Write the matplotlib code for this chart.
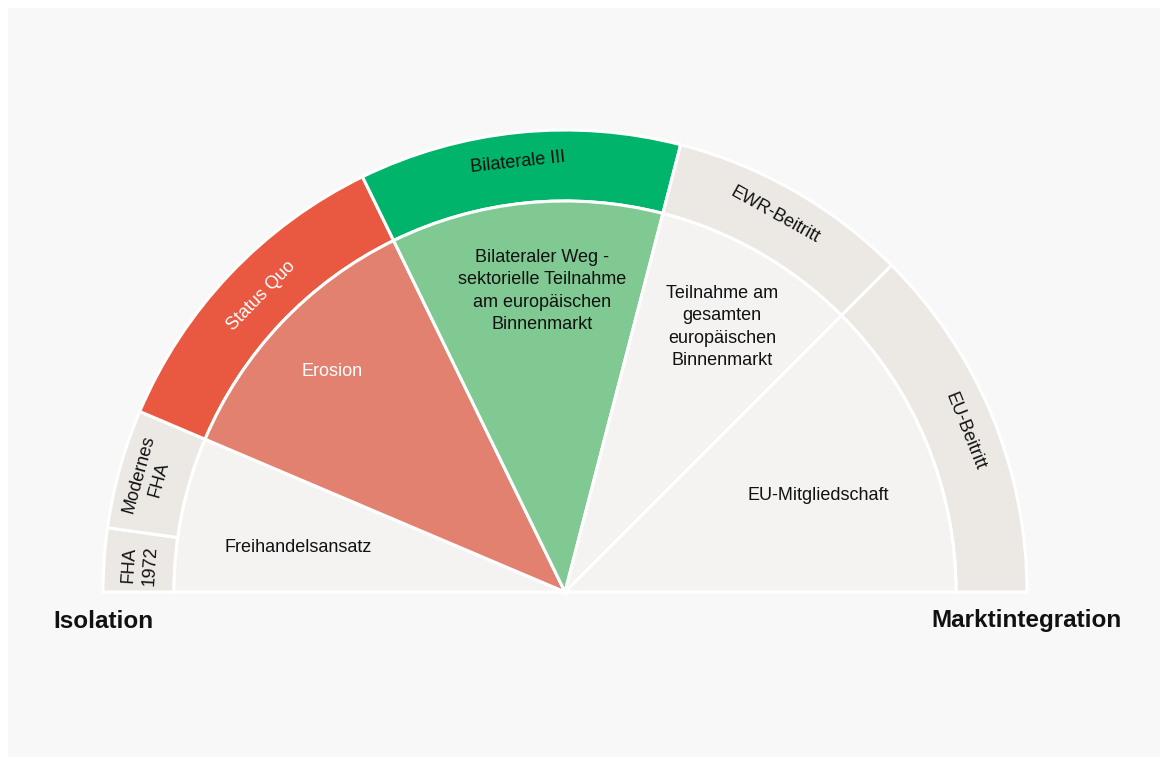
import matplotlib
matplotlib.use("Agg")
import matplotlib.pyplot as plt
from matplotlib.patches import Wedge, Rectangle
import numpy as np

plt.rcParams['font.family'] = ['Liberation Sans', 'DejaVu Sans']

# Outer ring segments (degrees, measured counter-clockwise from right)
ring_labels = ["FHA\n1972", "Modernes\nFHA", "Status Quo", "Bilaterale III", "EWR-Beitritt", "EU-Beitritt"]
ring_start = [172, 157, 116, 75.5, 45, 0]
ring_end = [180, 172, 157, 116, 75.5, 45]
ring_colors = ["#ece9e5", "#ece9e5", "#e95840", "#00b46b", "#ece9e5", "#ece9e5"]
ring_text_colors = ["#111111", "#111111", "white", "#111111", "#111111", "#111111"]
ring_label_angle = [176.4, 164.5, 135.7, 96.2, 60.9, 21.8]
ring_label_radius = [426, 432, 424, 432, 431, 431]

# Inner sectors
inner_labels = ["Freihandelsansatz", "Erosion",
                "Bilateraler Weg -\nsektorielle Teilnahme\nam europäischen\nBinnenmarkt",
                "Teilnahme am\ngesamten\neuropäischen\nBinnenmarkt", "EU-Mitgliedschaft"]
inner_start = [157, 116, 75.5, 45, 0]
inner_end = [180, 157, 116, 75.5, 45]
inner_colors = ["#f4f3f2", "#e38171", "#80c993", "#f4f3f2", "#f4f3f2"]
inner_text_colors = ["#111111", "white", "#111111", "#111111", "#111111"]
inner_label_xy = [(298, 548), (332, 371), (542, 291), (722, 327), (818, 496)]

W, H = 1167, 762
fig = plt.figure(figsize=(W / 100, H / 100), dpi=100, facecolor="white")
ax = fig.add_axes([0, 0, 1, 1])
ax.set_xlim(0, W)
ax.set_ylim(H, 0)
ax.axis("off")

ax.add_patch(Rectangle((8, 8), 1152, 749, facecolor="#f8f8f8", edgecolor="none", zorder=0))

cx, cy = 565, 592
R_out, R_in = 462, 391

# y axis inverted: angle theta (ccw up) -> wedge angles become -theta
for s, e, c in zip(ring_start, ring_end, ring_colors):
    ax.add_patch(Wedge((cx, cy), R_out, -e, -s, width=R_out - R_in,
                       facecolor=c, edgecolor="white", linewidth=2.2, zorder=2))
for s, e, c in zip(inner_start, inner_end, inner_colors):
    ax.add_patch(Wedge((cx, cy), R_in, -e, -s,
                       facecolor=c, edgecolor="white", linewidth=2.2, zorder=2))

for lab, ang, r, tc in zip(ring_labels, ring_label_angle, ring_label_radius, ring_text_colors):
    t = np.deg2rad(ang)
    x = cx + r * np.cos(t)
    y = cy - r * np.sin(t)
    ax.text(x, y, lab, rotation=ang - 90, rotation_mode="anchor", ha="center", va="center",
            fontsize=13, color=tc, linespacing=1.3, zorder=3)

for lab, (x, y), tc in zip(inner_labels, inner_label_xy, inner_text_colors):
    ax.text(x, y, lab, ha="center", va="center", fontsize=13, color=tc,
            linespacing=1.4, zorder=3)

ax.text(53, 621, "Isolation", ha="left", va="center", fontsize=17.5, fontweight="bold", color="#111111")
ax.text(1122, 621, "Marktintegration", ha="right", va="center", fontsize=17.5, fontweight="bold", color="#111111")

fig.savefig("out.png", dpi=100, facecolor="white")
